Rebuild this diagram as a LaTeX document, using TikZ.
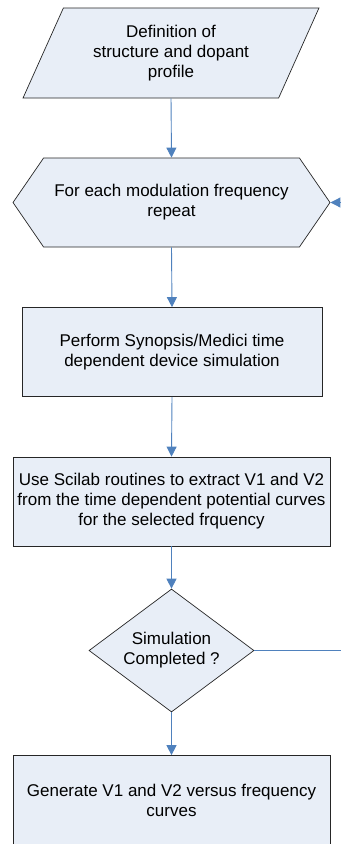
\documentclass[tikz,border=0pt]{standalone}
\usepackage{fontspec}
\setmainfont{Liberation Sans}
\usetikzlibrary{positioning,arrows.meta,shapes.geometric,shapes.symbols}
\definecolor{boxfill}{RGB}{232,238,247}
\definecolor{flowline}{RGB}{79,129,189}

\begin{document}
\begin{tikzpicture}[x=1pt,y=-1pt,
    base/.style={draw=black!85,fill=boxfill,line width=0.7pt,align=center,
      inner sep=2pt,font=\fontsize{17}{20}\selectfont},
    stepbox/.style={base,rectangle,minimum height=89pt},
    flow/.style={draw=flowline,line width=0.9pt,-{Triangle[length=10pt,width=10pt]}},
    link/.style={draw=flowline,line width=0.9pt}]
  \useasboundingbox (0,0) rectangle (341,844);
  \clip (0,0) rectangle (341,844);

  % the steps, top to bottom
  \node[base,trapezium,trapezium left angle=63.4,trapezium right angle=116.6,
    trapezium stretches=true,minimum width=296pt,minimum height=90pt]
    (def) at (171,53) {Definition of\\structure and dopant\\profile};
  \node[base,signal,signal to=west and east,signal pointer angle=111,
    minimum width=317pt,minimum height=89pt]
    (freq) at (171.5,202.5) {For each modulation frequency\\repeat};
  \node[stepbox,minimum width=300pt] (sim) at (172,352)
    {Perform Synopsis/Medici time\\dependent device simulation};
  \node[stepbox,minimum width=317pt] (extract) at (171.5,501.5)
    {Use Scilab routines to extract V1 and V2\\from the time dependent potential curves\\for the selected frquency};
  \node[base,diamond,aspect=1.34,minimum width=165pt,minimum height=123pt,inner sep=0pt]
    (done) at (171.5,650.5) {Simulation\\Completed ?};
  \node[stepbox,minimum width=317pt] (curves) at (171.5,800)
    {Generate V1 and V2 versus frequency\\curves};

  % connectors
  \draw[flow] (def.south) -- (freq.north);
  \draw[flow] (freq.south) -- (sim.north);
  \draw[flow] (sim.south) -- (extract.north);
  \draw[flow] (extract.south) -- (done.north);
  \draw[flow] (done.south) -- (curves.north);

  % loop back to the frequency sweep
  \coordinate (loopout) at (341,650.5);
  \coordinate (loopin) at (341,202.5);
  \draw[link] (done.east) -- (loopout);
  \draw[flow] (loopin) -- (freq.east);
\end{tikzpicture}
\end{document}
